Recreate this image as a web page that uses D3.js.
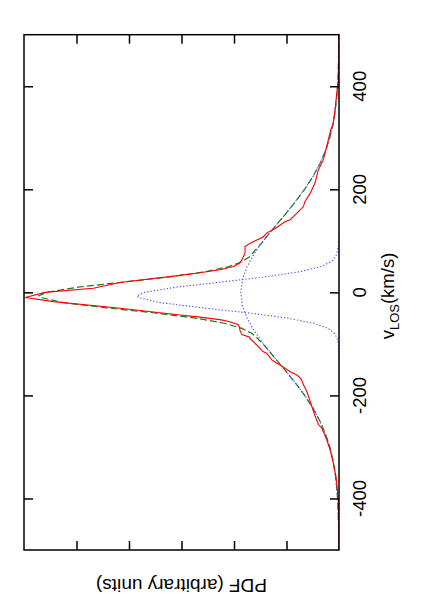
<!DOCTYPE html>
<html>
<head>
<meta charset="utf-8">
<script src="https://cdn.jsdelivr.net/npm/d3@7"></script>
<style>
  html, body { margin: 0; padding: 0; background: #fff; }
  svg { display: block; }
  text { font-family: "Liberation Sans", Arial, Helvetica, sans-serif; fill: #000; }
</style>
</head>
<body>
<svg id="chart" width="421" height="600"></svg>
<script>
// ---- Data (velocity in km/s, PDF in arbitrary units) ----
const velocityTicks = [-400, -200, 0, 200, 400];
const pdfTicks = [1, 2, 3, 4, 5];

// observed PDF (red solid)
const observedV = [-500,-440,-402,-383,-357,-331,-305,-286,-263,-257,-240,-205,-192,-179,-173,-166,-160,-154,-141,-137,-131,-118,-115,-105,-89,-87,-82,-73,-69,-63,-57,-53,-48,-44,-31,-18,-10,0,8,19,33,38,44,50,57,63,76,89,95,108,115,125,137,141,150,166,176,192,212,225,237,257,276,296,315,328,354,386,406,438,500];
const observedP = [0,0,0.013,0.032,0.057,0.109,0.171,0.234,0.33,0.39,0.457,0.57,0.615,0.68,0.70,0.74,0.81,0.93,1.12,1.19,1.28,1.38,1.45,1.54,1.70,1.70,1.85,1.89,1.89,1.92,2.08,2.27,2.65,3.03,4.17,5.44,5.98,5.6,4.68,4.17,3.03,2.65,2.27,2.01,1.89,1.85,1.79,1.79,1.70,1.44,1.38,1.2,1.03,0.93,0.84,0.68,0.65,0.55,0.457,0.425,0.394,0.30,0.25,0.204,0.158,0.109,0.076,0.044,0.013,0,0];

// total fit (green dashed)
const totalV = [-500,-475,-450,-425,-400,-375,-350,-325,-300,-275,-250,-225,-200,-175,-150,-125,-110,-100,-90,-80,-70,-60,-50,-40,-30,-20,-10,-7,0,10,20,30,40,50,60,70,80,90,100,110,125,150,175,200,225,250,275,300,325,350,375,400,425,450,475,500];
const totalP = [0.003,0.005,0.009,0.016,0.028,0.047,0.075,0.117,0.176,0.257,0.362,0.495,0.654,0.837,1.036,1.241,1.364,1.450,1.547,1.656,1.848,2.182,2.731,3.513,4.426,5.25,5.685,5.72,5.58,4.975,4.10,3.226,2.544,2.099,1.840,1.692,1.611,1.522,1.439,1.362,1.241,1.036,0.837,0.654,0.495,0.362,0.257,0.176,0.117,0.075,0.047,0.028,0.016,0.009,0.005,0.003];

// broad component (blue dotted)
const broadV = [-500,-475,-450,-425,-400,-375,-350,-325,-300,-275,-250,-225,-200,-175,-150,-125,-100,-75,-50,-25,0,25,50,75,100,125,150,175,200,225,250,275,300,325,350,375,400,425,450,475,500];
const broadP = [0.003,0.005,0.009,0.016,0.028,0.047,0.075,0.117,0.176,0.257,0.362,0.495,0.654,0.837,1.036,1.241,1.438,1.613,1.751,1.840,1.870,1.840,1.751,1.613,1.438,1.241,1.036,0.837,0.654,0.495,0.362,0.257,0.176,0.117,0.075,0.047,0.028,0.016,0.009,0.005,0.003];

// narrow component (blue dotted)
const narrowV = [-130,-120,-110,-100,-90,-80,-70,-60,-50,-40,-30,-20,-10,-7,0,10,20,30,40,50,60,70,80,90,100,110,120];
const narrowP = [0,0.001,0.004,0.012,0.035,0.08,0.204,0.481,0.98,1.72,2.60,3.40,3.82,3.85,3.71,3.11,2.25,1.40,0.751,0.348,0.139,0.06,0.03,0.01,0.003,0.001,0];

// ---- Layout ----
const pLeft = 24, pRight = 339, pTop = 34.7, pBottom = 550;
const svg = d3.select("#chart");

// PDF runs right-to-left, velocity runs bottom-to-top (rotated plot)
const x = d3.scaleLinear().domain([0, 6]).range([pRight, pLeft]);
const y = d3.scaleLinear().domain([-500, 500]).range([pBottom, pTop]);

svg.append("defs").append("clipPath").attr("id", "clip")
  .append("rect").attr("x", pLeft).attr("y", pTop)
  .attr("width", pRight - pLeft).attr("height", pBottom - pTop);

const line = d3.line().x(d => x(d[1])).y(d => y(d[0]));
const zip = (a, b) => a.map((v, i) => [v, b[i]]);

const g = svg.append("g").attr("clip-path", "url(#clip)");

g.append("path").datum(zip(totalV, totalP))
  .attr("d", line).attr("fill", "none")
  .attr("stroke", "#1d7a1d").attr("stroke-width", 1.2)
  .attr("stroke-dasharray", "7,3");

g.append("path").datum(zip(broadV, broadP))
  .attr("d", line).attr("fill", "none")
  .attr("stroke", "#4a4aff").attr("stroke-width", 1.1)
  .attr("stroke-dasharray", "1.3,2");

g.append("path").datum(zip(narrowV, narrowP))
  .attr("d", line).attr("fill", "none")
  .attr("stroke", "#4a4aff").attr("stroke-width", 1.1)
  .attr("stroke-dasharray", "1.3,2");

g.append("path").datum(zip(observedV, observedP))
  .attr("d", line).attr("fill", "none")
  .attr("stroke", "#ff0000").attr("stroke-width", 1.1);

// ---- Axes (ticks drawn inward via d3 axes) ----
const tickLen = 9;
svg.append("g").attr("transform", `translate(${pLeft},0)`)
  .call(d3.axisRight(y).tickValues(velocityTicks).tickSize(tickLen).tickFormat(""))
  .call(a => a.select(".domain").remove());
svg.append("g").attr("transform", `translate(${pRight},0)`)
  .call(d3.axisLeft(y).tickValues(velocityTicks).tickSize(tickLen).tickFormat(""))
  .call(a => a.select(".domain").remove());
svg.append("g").attr("transform", `translate(0,${pTop})`)
  .call(d3.axisBottom(x).tickValues(pdfTicks).tickSize(tickLen).tickFormat(""))
  .call(a => a.select(".domain").remove());
svg.append("g").attr("transform", `translate(0,${pBottom})`)
  .call(d3.axisTop(x).tickValues(pdfTicks).tickSize(tickLen).tickFormat(""))
  .call(a => a.select(".domain").remove());
svg.selectAll(".tick line").attr("stroke", "#000").attr("stroke-width", 1.5);

// frame
svg.append("rect").attr("x", pLeft).attr("y", pTop)
  .attr("width", pRight - pLeft).attr("height", pBottom - pTop)
  .attr("fill", "none").attr("stroke", "#000").attr("stroke-width", 1.5);

// tick labels (rotated)
svg.append("g").selectAll("text").data(velocityTicks).join("text")
  .attr("transform", d => `translate(366,${y(d)}) rotate(-90)`)
  .attr("text-anchor", "middle")
  .style("font-size", "18.5px")
  .text(d => d);

// velocity axis label
const vl = svg.append("text")
  .attr("transform", `translate(394,296) rotate(-90)`)
  .attr("text-anchor", "middle")
  .style("font-size", "18.5px");
vl.append("tspan").text("v");
vl.append("tspan").attr("dy", 5).style("font-size", "13px").text("LOS");
vl.append("tspan").attr("dy", -5).text("(km/s)");

// PDF axis label (upside-down)
svg.append("text")
  .attr("transform", `translate(181.5,578.5) rotate(180)`)
  .attr("text-anchor", "middle")
  .style("font-size", "19px")
  .text("PDF (arbitrary units)");
</script>
</body>
</html>
